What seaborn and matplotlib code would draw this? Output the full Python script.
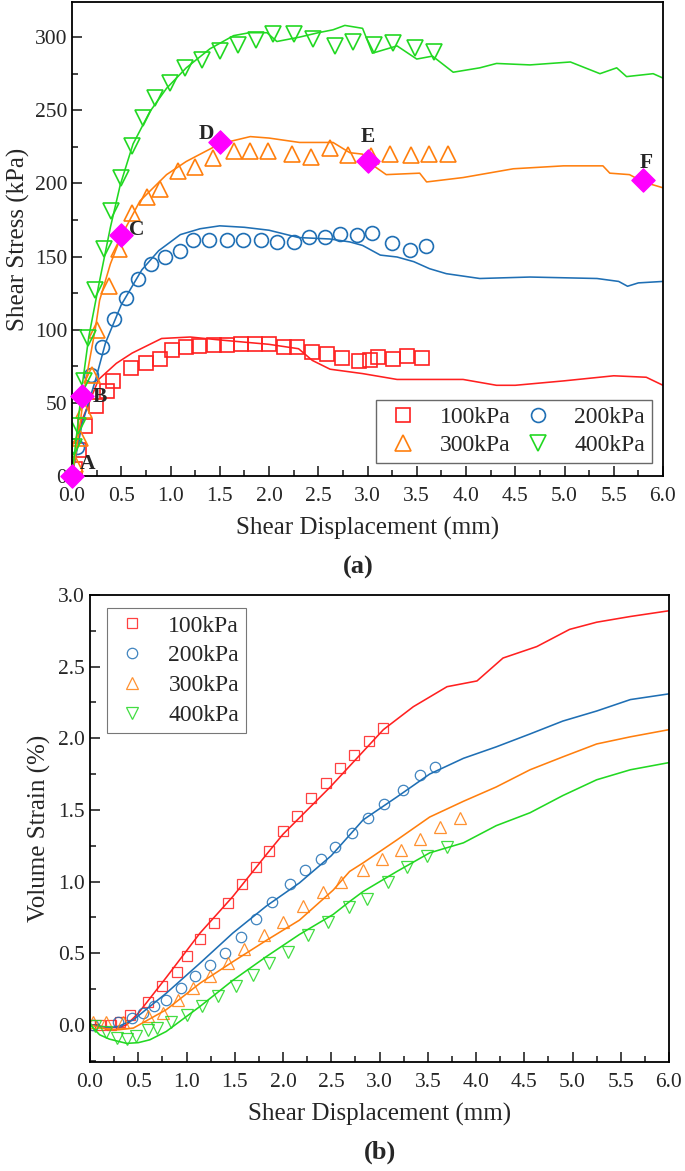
import numpy as np
import pandas as pd
import matplotlib
matplotlib.use("Agg")
import matplotlib.pyplot as plt
from matplotlib.ticker import MultipleLocator
import seaborn as sns

sns.set_theme(style="ticks")
plt.rcParams["font.family"] = ["Liberation Serif", "DejaVu Serif"]
plt.rcParams["axes.linewidth"] = 1.2
plt.rcParams["xtick.direction"] = "in"
plt.rcParams["ytick.direction"] = "in"

LABELS = ["100kPa", "200kPa", "300kPa", "400kPa"]
COLORS = ["#ff2020", "#1f6fb4", "#ff7f0e", "#22d822"]
MARKERS = ["s", "o", "^", "v"]

# ---------------- (a) shear stress: measured curves (solid lines)
a_x100 = [0, 0.05, 0.1, 0.27, 0.45, 0.61, 0.91, 1.2, 1.5, 2.0, 2.3, 2.44, 2.62, 2.95, 3.3, 3.97, 4.31, 4.5, 4.99, 5.5, 5.83, 6.0]
a_y100 = [0, 20, 38, 66, 77, 84, 94, 95, 93, 90, 87, 79, 73, 70, 66, 66, 62, 62, 65, 68.5, 67.5, 62]
a_x200 = [0, 0.1, 0.24, 0.34, 0.5, 0.71, 0.88, 1.1, 1.3, 1.5, 1.75, 2.0, 2.3, 2.62, 2.82, 2.95, 3.13, 3.3, 3.47, 3.63, 3.8, 4.14, 4.65, 5.33, 5.55, 5.64, 5.75, 6.0]
a_y200 = [0, 35, 66, 91, 117, 141, 154, 165, 169, 171, 170, 168, 163, 162, 160, 157.6, 151, 149.7, 146.5, 141.7, 138.3, 135, 136, 135, 133, 129.7, 132, 133]
a_x300 = [0, 0.05, 0.1, 0.135, 0.24, 0.28, 0.39, 0.5, 0.69, 0.96, 1.16, 1.5, 1.81, 2.0, 2.31, 2.65, 2.82, 2.95, 3.0, 3.19, 3.53, 3.6, 3.97, 4.48, 4.99, 5.39, 5.46, 5.66, 5.8, 6.0]
a_y300 = [0, 20, 45, 63, 102, 120, 145, 164, 188, 206, 215, 227, 232, 231, 228, 228, 221, 220, 215, 206, 207, 201, 204, 210, 212, 212, 207, 206, 201, 197]
a_x400 = [0, 0.05, 0.1, 0.17, 0.27, 0.39, 0.49, 0.62, 0.79, 0.96, 1.16, 1.4, 1.64, 1.8, 1.98, 2.08, 2.31, 2.5, 2.65, 2.77, 2.95, 3.05, 3.3, 3.5, 3.66, 3.87, 4.14, 4.31, 4.65, 5.06, 5.36, 5.53, 5.63, 5.9, 6.0]
a_y400 = [0, 30, 60, 95, 130, 170, 199, 227, 249, 265, 279, 292, 301, 303, 303, 297, 300, 303, 305, 308, 306, 289, 294, 285, 287, 276, 279, 282, 281, 283, 275, 279, 273, 275, 272]

# (a) simulated points (hollow markers)
m_x100 = [0.03, 0.07, 0.13, 0.24, 0.36, 0.42, 0.60, 0.75, 0.89, 1.02, 1.16, 1.29, 1.44, 1.57, 1.72, 1.86, 2.0, 2.15, 2.28, 2.44, 2.59, 2.74, 2.91, 3.03, 3.11, 3.26, 3.40, 3.55]
m_y100 = [5, 18, 34, 48, 58, 65, 74, 77, 80, 86, 88, 89, 89.5, 89.5, 90, 90, 90, 88.4, 88, 85, 83.4, 81, 78.7, 79.4, 81.6, 79.8, 82, 80.5]
m_x200 = [0.05, 0.19, 0.30, 0.43, 0.55, 0.67, 0.80, 0.94, 1.10, 1.23, 1.39, 1.57, 1.74, 1.92, 2.08, 2.25, 2.41, 2.57, 2.72, 2.89, 3.05, 3.25, 3.43, 3.59]
m_y200 = [20, 69, 88, 107, 122, 135, 145, 150, 154, 161, 161, 161.5, 161.5, 161.5, 160, 160, 163.7, 163.7, 165.5, 164.4, 166, 159, 154.6, 157]
m_x300 = [0.03, 0.085, 0.12, 0.2, 0.25, 0.38, 0.48, 0.61, 0.76, 0.89, 1.08, 1.25, 1.43, 1.64, 1.81, 1.99, 2.23, 2.43, 2.62, 2.80, 3.04, 3.23, 3.44, 3.62, 3.82]
m_y300 = [8, 26, 45, 69, 100, 130, 155, 180, 190.5, 196, 208.6, 211, 217.7, 222, 222, 222, 220, 218, 224.5, 219.5, 218.8, 220.4, 219.5, 220.4, 220.4]
m_x400 = [0.02, 0.06, 0.12, 0.16, 0.23, 0.32, 0.40, 0.50, 0.61, 0.72, 0.84, 0.99, 1.15, 1.32, 1.50, 1.69, 1.87, 2.04, 2.25, 2.45, 2.67, 2.85, 3.07, 3.26, 3.48, 3.68]
m_y400 = [20, 34, 65, 94, 127, 155, 181, 204, 225.6, 245, 258.5, 268.7, 279, 284.6, 290.7, 294.8, 298, 302, 302, 299, 293.7, 297, 294.8, 296, 292.5, 290]

# key points A-F
key_names = ["A", "B", "C", "D", "E", "F"]
key_x = [0.0, 0.1, 0.5, 1.5, 3.0, 5.8]
key_y = [0.0, 55, 165, 228, 215, 202]

# ---------------- (b) volume strain
b_x100 = [0, 0.1, 0.2, 0.3, 0.38, 0.5, 0.79, 1.14, 1.48, 1.83, 2.0, 2.49, 3.04, 3.35, 3.70, 4.01, 4.28, 4.63, 4.97, 5.25, 5.6, 6.0]
b_y100 = [0, -0.01, -0.02, -0.02, 0, 0.08, 0.33, 0.64, 0.895, 1.19, 1.33, 1.66, 2.06, 2.22, 2.36, 2.40, 2.56, 2.64, 2.76, 2.81, 2.85, 2.89]
b_x200 = [0, 0.1, 0.21, 0.3, 0.45, 0.79, 1.14, 1.48, 1.83, 2.17, 2.5, 2.83, 3.18, 3.52, 3.87, 4.21, 4.56, 4.9, 5.25, 5.6, 6.0]
b_y200 = [0, -0.01, -0.02, -0.01, 0.035, 0.22, 0.43, 0.64, 0.83, 0.99, 1.18, 1.43, 1.59, 1.75, 1.86, 1.94, 2.03, 2.12, 2.19, 2.27, 2.31]
b_x300 = [0, 0.1, 0.21, 0.3, 0.45, 0.79, 1.14, 1.48, 1.83, 2.17, 2.52, 2.69, 2.83, 3.18, 3.52, 3.87, 4.21, 4.56, 4.9, 5.25, 5.6, 6.0]
b_y300 = [0, -0.02, -0.035, -0.035, -0.023, 0.105, 0.29, 0.44, 0.59, 0.73, 0.94, 1.07, 1.13, 1.29, 1.45, 1.56, 1.66, 1.78, 1.87, 1.96, 2.01, 2.06]
b_x400 = [0, 0.1, 0.2, 0.38, 0.5, 0.62, 0.79, 1.14, 1.48, 1.83, 2.17, 2.52, 2.69, 2.83, 3.18, 3.52, 3.87, 4.21, 4.56, 4.9, 5.25, 5.6, 6.0]
b_y400 = [0, -0.07, -0.1, -0.13, -0.125, -0.105, -0.047, 0.128, 0.31, 0.477, 0.63, 0.77, 0.86, 0.93, 1.07, 1.2, 1.27, 1.39, 1.48, 1.6, 1.71, 1.78, 1.83]

p_x100 = [0.0, 0.1, 0.22, 0.31, 0.41, 0.60, 0.75, 0.90, 1.01, 1.14, 1.29, 1.43, 1.58, 1.72, 1.86, 2.0, 2.15, 2.29, 2.45, 2.59, 2.74, 2.89, 3.04]
p_y100 = [0.0, 0.0, 0.0, 0.02, 0.065, 0.16, 0.27, 0.37, 0.48, 0.60, 0.71, 0.85, 0.98, 1.10, 1.21, 1.35, 1.46, 1.58, 1.69, 1.79, 1.88, 1.98, 2.07]
p_x200 = [0.03, 0.29, 0.44, 0.55, 0.66, 0.79, 0.94, 1.09, 1.24, 1.40, 1.56, 1.72, 1.89, 2.07, 2.23, 2.39, 2.54, 2.71, 2.88, 3.05, 3.24, 3.42, 3.58]
p_y200 = [0.0, 0.02, 0.05, 0.08, 0.13, 0.17, 0.26, 0.34, 0.42, 0.50, 0.61, 0.74, 0.86, 0.98, 1.08, 1.16, 1.24, 1.34, 1.44, 1.54, 1.64, 1.74, 1.80]
p_x300 = [0.03, 0.17, 0.34, 0.60, 0.76, 0.91, 1.07, 1.24, 1.43, 1.60, 1.80, 2.0, 2.21, 2.41, 2.60, 2.83, 3.03, 3.22, 3.42, 3.63, 3.83]
p_y300 = [0.02, 0.02, 0.02, 0.06, 0.08, 0.17, 0.26, 0.34, 0.43, 0.53, 0.63, 0.72, 0.83, 0.93, 1.0, 1.08, 1.16, 1.22, 1.30, 1.38, 1.44]
p_x400 = [0.05, 0.17, 0.28, 0.38, 0.48, 0.60, 0.69, 0.84, 1.0, 1.16, 1.33, 1.51, 1.69, 1.86, 2.05, 2.26, 2.47, 2.68, 2.87, 3.09, 3.29, 3.49, 3.70]
p_y400 = [-0.01, -0.05, -0.09, -0.10, -0.08, -0.04, -0.02, 0.02, 0.07, 0.13, 0.20, 0.27, 0.35, 0.43, 0.51, 0.63, 0.72, 0.82, 0.88, 1.0, 1.10, 1.18, 1.24]

a_lines = [(a_x100, a_y100), (a_x200, a_y200), (a_x300, a_y300), (a_x400, a_y400)]
a_marks = [(m_x100, m_y100), (m_x200, m_y200), (m_x300, m_y300), (m_x400, m_y400)]
b_lines = [(b_x100, b_y100), (b_x200, b_y200), (b_x300, b_y300), (b_x400, b_y400)]
b_marks = [(p_x100, p_y100), (p_x200, p_y200), (p_x300, p_y300), (p_x400, p_y400)]

W, H = 685, 1171
fig = plt.figure(figsize=(W / 100, H / 100), dpi=100)
ax1 = fig.add_axes([72 / W, 1 - 476 / H, (663 - 72) / W, (476 - 2) / H])
ax2 = fig.add_axes([90 / W, 1 - 1062 / H, (669 - 90) / W, (1062 - 595) / H])


def draw(ax, lines, marks, msizes, mew, alpha):
    for i, ((lx, ly), (mx, my)) in enumerate(zip(lines, marks)):
        sns.lineplot(x=lx, y=ly, ax=ax, color=COLORS[i], lw=1.15,
                     estimator=None, sort=False)
        sns.lineplot(x=mx, y=my, ax=ax, color=COLORS[i], linestyle="none",
                     marker=MARKERS[i], markersize=msizes[i], mfc="none",
                     mec=COLORS[i], mew=mew, alpha=alpha, estimator=None,
                     sort=False, label=LABELS[i])


def style(ax):
    ax.set_xlim(0, 6)
    ax.xaxis.set_major_locator(MultipleLocator(0.5))
    ax.xaxis.set_minor_locator(MultipleLocator(0.25))
    ax.tick_params(which="major", length=7, width=1.2, labelsize=15.5)
    ax.tick_params(axis="x", which="major", pad=8)
    ax.tick_params(which="minor", length=4, width=1.2)
    ax.xaxis.set_major_formatter(plt.FuncFormatter(lambda v, p: f"{v:.1f}"))
    for s in ax.spines.values():
        s.set_linewidth(1.3)
        s.set_color("black")
    ax.set_xlabel("Shear Displacement (mm)", fontsize=18, labelpad=8)


# ---------------- panel (a)
draw(ax1, a_lines, a_marks, [9.5, 10, 11, 11], 1.2, 1.0)
sns.scatterplot(x=key_x, y=key_y, ax=ax1, marker="D", s=140, color="#ff00ff",
                edgecolor="#ff00ff", zorder=5, legend=False, clip_on=False)
offsets = [(0.16, 8), (0.28, 54), (0.66, 168), (1.36, 234), (3.0, 232), (5.83, 214)]
for name, (tx, ty) in zip(key_names, offsets):
    ax1.text(tx, ty, name, fontsize=15.5, fontweight="bold", ha="center", va="center")
ax1.set_ylim(0, 324)
ax1.yaxis.set_major_locator(MultipleLocator(50))
ax1.yaxis.set_minor_locator(MultipleLocator(25))
ax1.set_ylabel("Shear Stress (kPa)", fontsize=18, labelpad=3)
style(ax1)
h, l = ax1.get_legend_handles_labels()
order = [0, 2, 1, 3]
leg = ax1.legend([h[k] for k in order], [l[k] for k in order], ncol=2,
                 loc="lower right", bbox_to_anchor=(1 - 11 / 591, 13 / 474),
                 borderaxespad=0, fontsize=17, frameon=True, fancybox=False,
                 edgecolor="#444444", handletextpad=0.7, columnspacing=0.3,
                 borderpad=0.3, labelspacing=0.25, handlelength=1.7)
leg.get_frame().set_linewidth(1.0)

# ---------------- panel (b)
draw(ax2, b_lines, b_marks, [7, 7.5, 8, 8], 0.9, 0.85)
ax2.set_ylim(-0.26, 3.0)
ax2.yaxis.set_major_locator(MultipleLocator(0.5))
ax2.yaxis.set_minor_locator(MultipleLocator(0.25))
ax2.yaxis.set_major_formatter(plt.FuncFormatter(lambda v, p: f"{v:.1f}"))
ax2.set_ylabel("Volume Strain (%)", fontsize=18, labelpad=5)
style(ax2)
leg2 = ax2.legend(loc="upper left", bbox_to_anchor=(17 / 579, 1 - 13 / 467),
                  borderaxespad=0, fontsize=17, frameon=True, fancybox=False,
                  edgecolor="#555555", handletextpad=0.8, handlelength=1.5,
                  borderpad=0.3, labelspacing=0.35)
leg2.get_frame().set_linewidth(0.8)

fig.text(358 / W, 1 - 567 / H, "(a)", fontsize=19, fontweight="bold",
         ha="center", va="center")
fig.text(380 / W, 1 - 1152 / H, "(b)", fontsize=19, fontweight="bold",
         ha="center", va="center")

fig.savefig("out.png", dpi=100)
